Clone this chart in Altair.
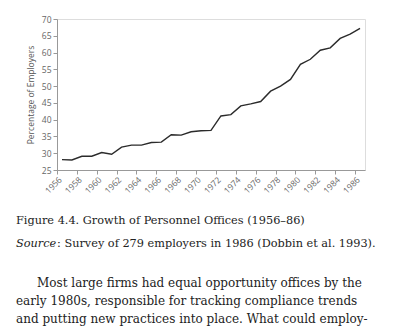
import altair as alt
import pandas as pd

years = list(range(1956, 1987))
pct = [28.1, 28.0, 29.1, 29.1, 30.2, 29.7, 31.8, 32.4, 32.4, 33.2, 33.3,
       35.5, 35.4, 36.4, 36.7, 36.8, 41.1, 41.5, 44.1, 44.7, 45.4,
       48.5, 50.0, 52.0, 56.5, 58.0, 60.7, 61.4, 64.2, 65.5, 67.2]
x_ticks = list(range(1956, 1987, 2))
y_ticks = list(range(25, 71, 5))
y_title = "Percentage of Employers"
caption = "Figure 4.4. Growth of Personnel Offices (1956–86)"
source_label = "Source"
source_rest = ": Survey of 279 employers in 1986 (Dobbin et al. 1993)."
body = [
    "Most large firms had equal opportunity offices by the",
    "early 1980s, responsible for tracking compliance trends",
    "and putting new practices into place. What could employ-",
]

df = pd.DataFrame({"year": years, "pct": pct})

W, H = 308, 151
L, T = 57, 19

line = alt.Chart(df).transform_calculate(
    xpos="datum.year + 0.5"
).mark_line(color="#2b2b2b", strokeWidth=1.4).encode(
    x=alt.X("xpos:Q", scale=alt.Scale(domain=[1956, 1987], nice=False, zero=False),
            axis=alt.Axis(values=x_ticks, format="d", labelAngle=315, grid=False,
                          title=None, labelFont="Open Sans", labelFontSize=8.5,
                          labelColor="#666", domainColor="#999", tickColor="#999",
                          tickSize=4, labelPadding=1)),
    y=alt.Y("pct:Q", scale=alt.Scale(domain=[25, 70], nice=False, zero=False),
            axis=alt.Axis(values=y_ticks, grid=False, title=y_title,
                          titleFont="Open Sans", titleFontSize=8.5, titleFontWeight="normal",
                          titleColor="#555", labelFont="Open Sans", labelFontSize=8.5,
                          labelColor="#666", domainColor="#999", tickColor="#999",
                          tickSize=4, titlePadding=6, labelPadding=2)),
)

def txt(s, px, py, italic=False, size=12):
    return alt.Chart(pd.DataFrame({"t": [s]})).mark_text(
        align="left", baseline="alphabetic", font="DejaVu Serif",
        fontSize=size, fontStyle="italic" if italic else "normal", color="#222",
        x=px - L, y=py - T,
    ).encode(text="t:N")

CAP = 11.3
texts = [
    txt(caption, 16, 224, size=CAP),
    txt(source_label, 16, 247, italic=True, size=CAP),
    txt(source_rest, 57, 247, size=CAP),
    txt(body[0], 37, 287),
    txt(body[1], 16, 305),
    txt(body[2], 16, 323),
]

chart = alt.layer(line, *texts).properties(
    width=W, height=H,
    autosize=alt.AutoSizeParams(type="none"),
    padding={"left": L, "top": T, "right": 393 - L - W, "bottom": 334 - T - H},
).configure_view(stroke="#c8d0d0", strokeWidth=1).configure(background="white")

chart.save("out.html", embed_options={"renderer": "svg", "actions": False})
